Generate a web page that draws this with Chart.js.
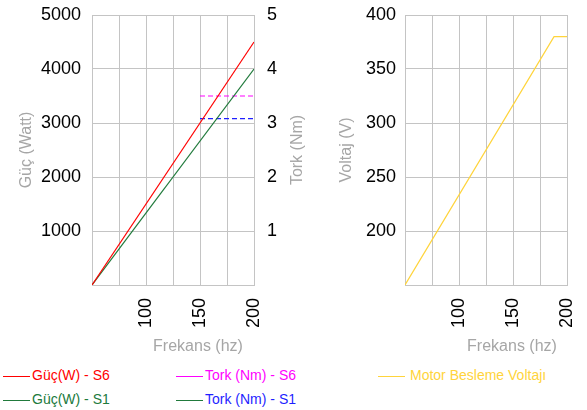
<!DOCTYPE html>
<html>
<head>
<meta charset="utf-8">
<script src="https://cdn.jsdelivr.net/npm/chart.js@4"></script>
<style>
  body { margin: 0; background: #fff; font-family: 'Liberation Sans', Arial, sans-serif; }
  #sayfa { position: relative; width: 587px; height: 410px; overflow: hidden; }
  canvas { position: absolute; top: 0; }
  .eksen { position: absolute; width: 140px; text-align: center; font-size: 16px; line-height: 18px; color: #a6a6a6; }
  .dikey { transform: rotate(-90deg); }
  .leg { position: absolute; font-size: 14px; line-height: 16px; white-space: nowrap; }
  .leg span { display: inline-block; width: 27px; height: 0; border-top: 1px solid; vertical-align: middle; margin-right: 2px; }
</style>
</head>
<body>
<div id="sayfa">
  <canvas id="grafikGuc" width="310" height="360" style="left:0"></canvas>
  <canvas id="grafikVoltaj" width="277" height="360" style="left:310px"></canvas>

  <div class="eksen" style="left:128px; top:337px">Frekans (hz)</div>
  <div class="eksen" style="left:442px; top:337px">Frekans (hz)</div>
  <div class="eksen dikey" style="left:227px; top:141px">Tork (Nm)</div>

  <div class="leg" style="left:3px; top:367px; color:#ff0000"><span style="color:#ff0000"></span>Güç(W) - S6</div>
  <div class="leg" style="left:3px; top:391px; color:#217a3c"><span style="color:#217a3c"></span>Güç(W) - S1</div>
  <div class="leg" style="left:176px; top:367px; color:#ff00ff"><span style="color:#ff00ff"></span>Tork (Nm) - S6</div>
  <div class="leg" style="left:176px; top:391px; color:#1f1fff"><span style="color:#217a3c"></span>Tork (Nm) - S1</div>
  <div class="leg" style="left:378px; top:367px; color:#ffd43b"><span style="color:#ffd43b; margin-right:5px"></span>Motor Besleme Voltajı</div>
</div>

<script>
// veriler
const frekans = [50, 200];
const gucS6 = [0, 4500];
const gucS1 = [0, 4000];
const torkFrekans = [150, 200];
const torkS6 = [3.5, 3.5];
const torkS1 = [3.08, 3.08];
const voltajFrekans = [50, 188, 200];
const voltaj = [150, 380, 380];

function noktalar(xs, ys) {
  return xs.map((x, i) => ({ x: x, y: ys[i] }));
}

const fonte = "'Liberation Sans', Arial, sans-serif";
const gridRenk = '#c4c4c4';

// eksen genisligini sabitle, etiket tasmasi icin ekstra bosluk birakma
function sabitGenislik(w) {
  return s => { s.width = w; s.paddingTop = 0; s.paddingBottom = 0; };
}

function eksenX() {
  return {
    type: 'linear',
    min: 50,
    max: 200,
    grid: { color: gridRenk, drawTicks: false },
    border: { color: gridRenk },
    ticks: {
      stepSize: 25,
      autoSkip: false,
      minRotation: 90,
      maxRotation: 90,
      padding: 13,
      color: '#000',
      font: { family: fonte, size: 18 },
      callback: v => (v % 50 === 0 && v !== 50) ? v : ''
    },
    afterFit: s => { s.height = 75; s.paddingLeft = 0; s.paddingRight = 0; }
  };
}

new Chart(document.getElementById('grafikGuc'), {
  type: 'line',
  data: {
    datasets: [
      { label: 'Güç(W) - S6', data: noktalar(frekans, gucS6), borderColor: '#ff0000', borderWidth: 1.2, pointRadius: 0, yAxisID: 'y' },
      { label: 'Güç(W) - S1', data: noktalar(frekans, gucS1), borderColor: '#217a3c', borderWidth: 1.2, pointRadius: 0, yAxisID: 'y' },
      { label: 'Tork (Nm) - S6', data: noktalar(torkFrekans, torkS6), borderColor: '#ff00ff', borderWidth: 1.2, borderDash: [5, 3], pointRadius: 0, yAxisID: 'y2' },
      { label: 'Tork (Nm) - S1', data: noktalar(torkFrekans, torkS1), borderColor: '#1f1fff', borderWidth: 1.2, borderDash: [5, 3], pointRadius: 0, yAxisID: 'y2' }
    ]
  },
  options: {
    responsive: false,
    animation: false,
    devicePixelRatio: 1,
    layout: { padding: { top: 15, left: 0, right: 0, bottom: 0 } },
    plugins: { legend: { display: false }, tooltip: { enabled: false } },
    scales: {
      x: eksenX(),
      y: {
        position: 'left',
        min: 0,
        max: 5000,
        grid: { color: gridRenk, drawTicks: false },
        border: { color: gridRenk },
        ticks: {
          stepSize: 1000,
          padding: 11,
          color: '#000',
          font: { family: fonte, size: 18 },
          callback: v => v === 0 ? '' : v
        },
        title: { display: true, text: 'Güç (Watt)', color: '#a6a6a6', font: { family: fonte, size: 16 }, padding: { top: 17, bottom: 0 } },
        afterFit: sabitGenislik(92)
      },
      y2: {
        position: 'right',
        min: 0,
        max: 5,
        grid: { display: false, drawTicks: false },
        border: { display: false },
        ticks: {
          stepSize: 1,
          padding: 13,
          color: '#000',
          font: { family: fonte, size: 18 },
          callback: v => v === 0 ? '' : v
        },
        afterFit: sabitGenislik(56)
      }
    }
  }
});

new Chart(document.getElementById('grafikVoltaj'), {
  type: 'line',
  data: {
    datasets: [
      { label: 'Motor Besleme Voltajı', data: noktalar(voltajFrekans, voltaj), borderColor: '#ffd43b', borderWidth: 1.2, pointRadius: 0 }
    ]
  },
  options: {
    responsive: false,
    animation: false,
    devicePixelRatio: 1,
    layout: { padding: { top: 15, left: 0, right: 20, bottom: 0 } },
    plugins: { legend: { display: false }, tooltip: { enabled: false } },
    scales: {
      x: eksenX(),
      y: {
        position: 'left',
        min: 150,
        max: 400,
        grid: { color: gridRenk, drawTicks: false },
        border: { color: gridRenk },
        ticks: {
          stepSize: 50,
          padding: 9,
          color: '#000',
          font: { family: fonte, size: 18 },
          callback: v => v === 150 ? '' : v
        },
        title: { display: true, text: 'Voltaj (V)', color: '#a6a6a6', font: { family: fonte, size: 16 }, padding: { top: 27, bottom: 0 } },
        afterFit: sabitGenislik(95)
      }
    }
  }
});
</script>
</body>
</html>
